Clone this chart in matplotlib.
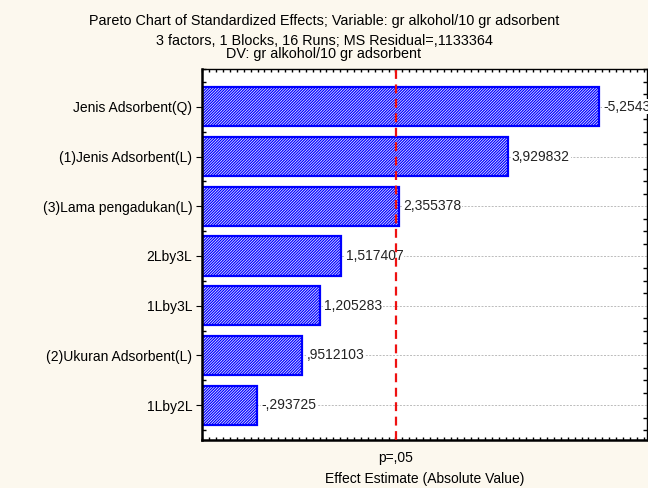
import matplotlib
matplotlib.use("Agg")
import matplotlib.pyplot as plt
from matplotlib.ticker import MultipleLocator

plt.rcParams['font.family'] = ['Liberation Sans', 'DejaVu Sans']
plt.rcParams['hatch.linewidth'] = 0.9
plt.rcParams['hatch.color'] = '#0000FF'

effects = ["Jenis Adsorbent(Q)", "(1)Jenis Adsorbent(L)", "(3)Lama pengadukan(L)",
           "2Lby3L", "1Lby3L", "(2)Ukuran Adsorbent(L)", "1Lby2L"]
values = [5.2543, 3.929832, 2.355378, 1.517407, 1.205283, 0.9512103, 0.293725]
value_labels = ["-5,2543", "3,929832", "2,355378", "1,517407", "1,205283", ",9512103", "-,293725"]
p_crit = 2.306
p_label = "p=,05"

fs = 10
bg = '#FCF8EE'
fig = plt.figure(figsize=(6.48, 4.88), dpi=100, facecolor=bg)
ax = fig.add_axes([202/648, 1-440/488, 445/648, 371/488])
ax.set_facecolor('white')

xmin, xmax = -0.506, 5.95
ypos = list(range(len(effects)))

for y in ypos:
    ax.axhline(y, color='#BBBBBB', linestyle=(0, (2, 1.5)), linewidth=0.7, zorder=0)

ax.barh(ypos, [v - xmin for v in values], left=xmin, height=0.79,
        color='white', edgecolor='#0000FF', hatch='////////////', linewidth=1.6, zorder=2)

for y, v, lab in zip(ypos, values, value_labels):
    ax.text(v + 0.06, y, lab, va='center', ha='left', fontsize=fs, color='#222222',
            bbox=dict(facecolor='white', edgecolor='none', pad=0.5), zorder=3, clip_on=False)

ax.axvline(p_crit, color='#EE1111', linestyle=(0, (4, 2.5)), linewidth=1.6, zorder=4)

ax.set_xlim(xmin, xmax)
ax.set_ylim(6.70, -0.76)

ax.set_xticks([p_crit], labels=[p_label])
ax.xaxis.set_minor_locator(MultipleLocator(0.1))
ax.tick_params(axis='x', which='major', length=0, labelsize=fs, pad=8, top=False)
ax.tick_params(axis='x', which='minor', direction='in', length=2.5, width=1.0, top=True, bottom=True)

ax.set_yticks(ypos, labels=effects)
ax.yaxis.set_minor_locator(MultipleLocator(0.25))
ax.tick_params(axis='y', which='major', direction='out', length=4, width=0.8, labelsize=fs, pad=3)
ax.tick_params(axis='y', which='minor', direction='in', length=3, width=1.0, left=True, right=True)

ax.set_xlabel("Effect Estimate (Absolute Value)", fontsize=fs, labelpad=5)

ax.spines['left'].set_linewidth(1.8)
ax.spines['bottom'].set_linewidth(1.8)
ax.spines['top'].set_linewidth(1.0)
ax.spines['right'].set_linewidth(1.0)

tfs = 10.4
fig.text(0.5, 1-21/488, "Pareto Chart of Standardized Effects; Variable: gr alkohol/10 gr adsorbent",
         ha='center', va='center', fontsize=tfs)
fig.text(0.5, 1-41/488, "3 factors, 1 Blocks, 16 Runs; MS Residual=,1133364",
         ha='center', va='center', fontsize=tfs)
fig.text(0.5, 1-54/488, "DV: gr alkohol/10 gr adsorbent",
         ha='center', va='center', fontsize=tfs)

fig.savefig("out.png", dpi=100, facecolor=bg)
